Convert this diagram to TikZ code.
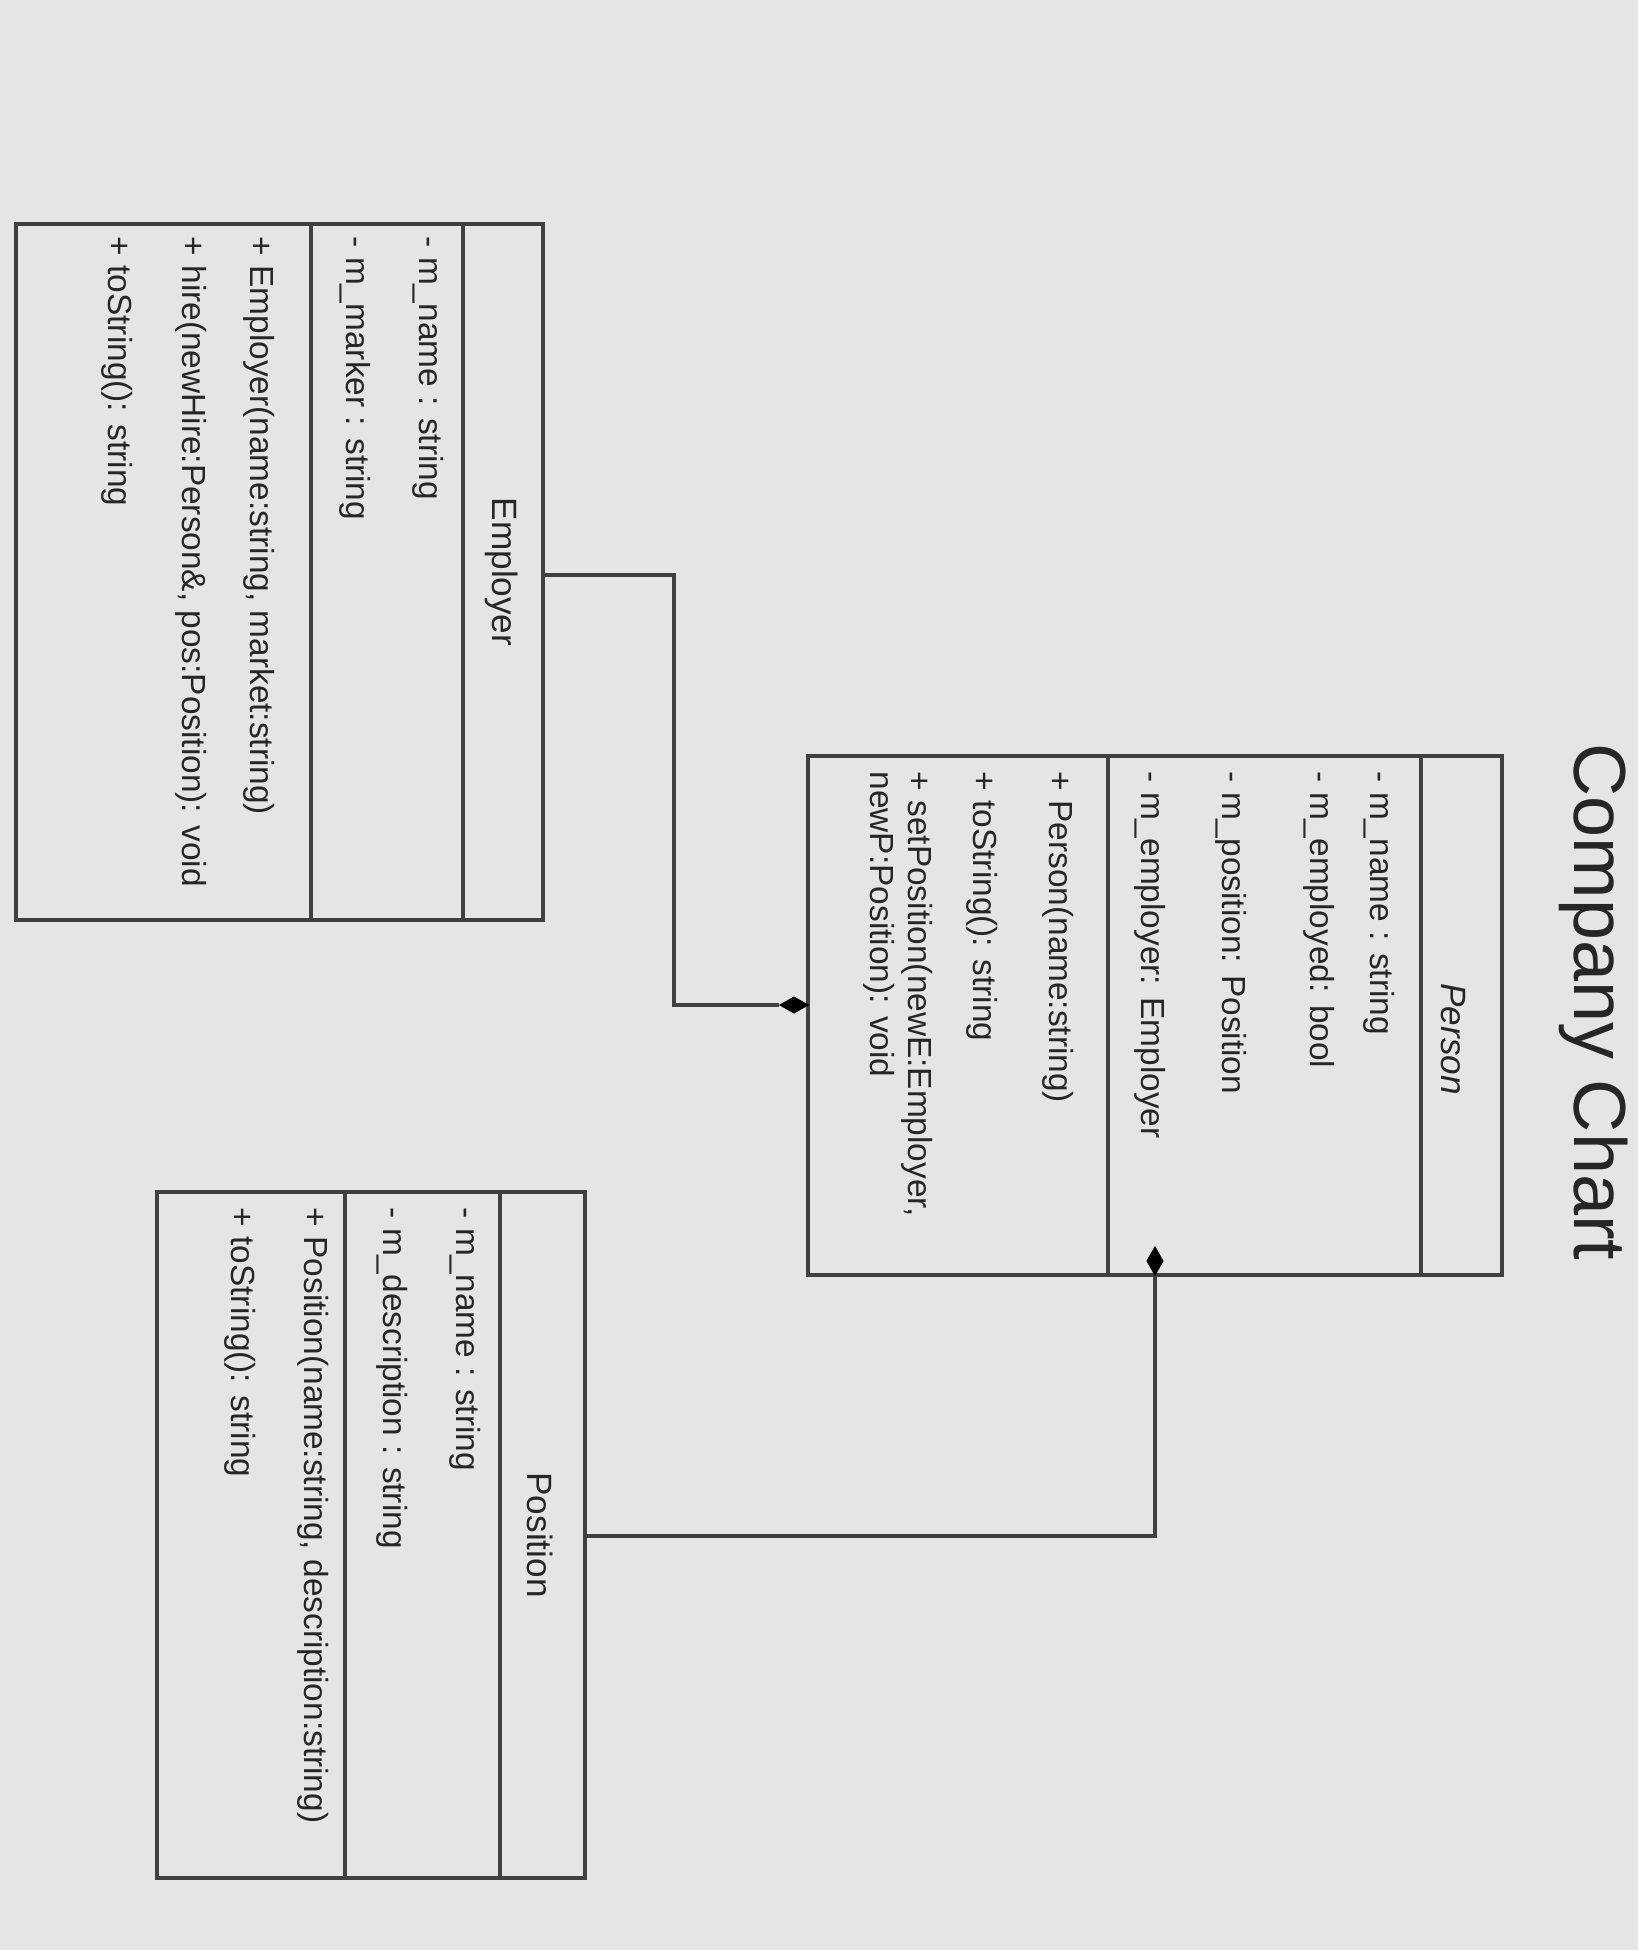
\documentclass[tikz,border=0pt]{standalone}
\usepackage{fontspec}
\setmainfont{Liberation Sans}
\usetikzlibrary{shapes.geometric}
\begin{document}
\begin{tikzpicture}[x=0.01cm,y=-0.01cm,
  box/.style={draw=black!75,line width=1.2pt,rectangle,inner sep=0pt},
  sep/.style={draw=black!75,line width=1.2pt},
  txt/.style={rotate=-90,anchor=west,inner sep=0pt,font=\fontsize{9.5}{11}\selectfont,text=black!85},
  hdr/.style={rotate=-90,anchor=center,inner sep=0pt,font=\fontsize{10}{12}\selectfont,text=black!85},
  conn/.style={draw=black!75,line width=1.2pt},
  dia/.style={draw=black,fill=black,diamond,inner sep=0pt}]
\useasboundingbox (0,0) rectangle (1638,1950);
\fill[gray!20] (0,0) rectangle (1638,1950);
\node[rotate=-90,font=\fontsize{21}{24}\selectfont,text=black!85] (title) at (1594,1002) {Company Chart};
% Person
\node[box,minimum width=6.94cm,minimum height=5.19cm] (person) at (1155,1015.5) {};
\draw[sep] (1421,756) -- (1421,1275);
\draw[sep] (1108,756) -- (1108,1275);
\node[hdr,font=\fontsize{10}{12}\selectfont\itshape] (personT) at (1453,1039) {Person};
\node[txt] (p1) at (1379,771) {- m\_name : string};
\node[txt] (p2) at (1319,771) {- m\_employed: bool};
\node[txt] (p3) at (1231,771) {- m\_position: Position};
\node[txt] (p4) at (1150,771) {- m\_employer: Employer};
\node[txt] (p5) at (1058,771) {+ Person(name:string)};
\node[txt] (p6) at (982,771) {+ toString(): string};
\node[txt,align=left] (p7) at (898,771) {+ setPosition(newE:Employer,\\newP:Position): void};
% Employer
\node[box,minimum width=5.27cm,minimum height=6.96cm] (employer) at (279.5,572) {};
\draw[sep] (463,224) -- (463,920);
\draw[sep] (311,224) -- (311,920);
\node[hdr] (employerT) at (502,572) {Employer};
\node[txt] (e1) at (428,236) {- m\_name : string};
\node[txt] (e2) at (355,236) {- m\_marker : string};
\node[txt] (e3) at (259,236) {+ Employer(name:string, market:string)};
\node[txt] (e4) at (191,236) {+ hire(newHire:Person\&, pos:Position): void};
\node[txt] (e5) at (117,236) {+ toString(): string};
% Position
\node[box,minimum width=4.28cm,minimum height=6.86cm] (position) at (371,1535) {};
\draw[sep] (500,1192) -- (500,1878);
\draw[sep] (345,1192) -- (345,1878);
\node[hdr] (positionT) at (540,1535) {Position};
\node[txt] (q1) at (465,1207) {- m\_name : string};
\node[txt] (q2) at (392,1207) {- m\_description : string};
\node[txt] (q3) at (313,1207) {+ Position(name:string, description:string)};
\node[txt] (q4) at (240,1207) {+ toString(): string};
% connectors
\node[dia,minimum width=0.28cm,minimum height=0.16cm] (d1) at (794,1005) {};
\node[dia,minimum width=0.16cm,minimum height=0.28cm] (d2) at (1155,1261) {};
\coordinate (c1a) at (674,575);
\coordinate (c1b) at (674,1005);
\draw[conn] (employer.east |- c1a) -- (c1a) -- (c1b) -- (d1.west);
\coordinate (c2a) at (1155,1536);
\draw[conn] (position.east |- c2a) -- (c2a) -- (d2.south);
\end{tikzpicture}
\end{document}
